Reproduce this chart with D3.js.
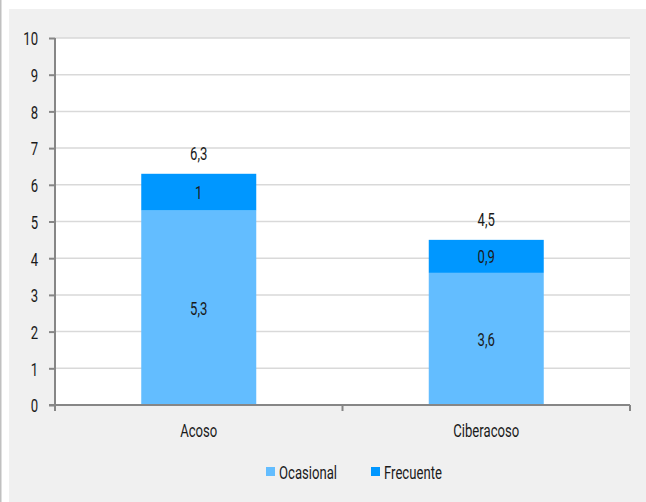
<!DOCTYPE html>
<html><head><meta charset="utf-8">
<script src="https://cdn.jsdelivr.net/npm/d3@7"></script>
<style>
html,body{margin:0;padding:0;background:#fff;}
text{font-family:Roboto,"Noto Sans",sans-serif;fill:#1a1a1a;}
</style></head>
<body>
<svg id="c" width="646" height="502"></svg>
<script>
const categories = ["Acoso", "Ciberacoso"];
const seriesNames = ["Ocasional", "Frecuente"];
const ocasional = [5.3, 3.6];
const frecuente = [1, 0.9];
const totals = [6.3, 4.5];
const yTicks = [0,1,2,3,4,5,6,7,8,9,10];
const colors = ["#63bdff", "#0097ff"];

const svg = d3.select("#c");
svg.append("rect").attr("x",0).attr("y",0).attr("width",646).attr("height",502).attr("fill","#fff");
svg.append("rect").attr("x",0).attr("y",0).attr("width",1.5).attr("height",502).attr("fill","#c0c0c0");
svg.append("rect").attr("x",9).attr("y",9).attr("width",637).attr("height",493).attr("fill","#f0f0f0");

const L=55, R=630, T=38, B=405;
svg.append("rect").attr("x",L).attr("y",T).attr("width",R-L).attr("height",B-T).attr("fill","#fff");

const x = d3.scaleBand().domain(categories).range([L,R]).padding(0);
const y = d3.scaleLinear().domain([0,10]).range([B,T]);

// measure condensing factor
const FS = 19;
const probe = svg.append("text").attr("font-size",FS).text("Ciberacoso");
const SX = 66 / probe.node().getComputedTextLength();
probe.remove();

function label(g, xx, yy, txt, anchor){
  const gg = g.append("g").attr("transform",`translate(${xx},${yy}) scale(${SX},1)`);
  gg.append("text").attr("font-size",FS).attr("text-anchor",anchor||"middle").attr("dy","0.36em").text(txt);
  return gg;
}

// grid
svg.append("g").selectAll("line").data(yTicks.filter(d=>d>0)).join("line")
  .attr("x1",L).attr("x2",R).attr("y1",d=>y(d)).attr("y2",d=>y(d))
  .attr("stroke","#d9d9d9").attr("stroke-width",1.5);

const fmt = v => String(v).replace(".", ",");
const bw = x.bandwidth()*0.4;
const stack = categories.map((c,i)=>[
  {c, s:0, y0:0, y1:ocasional[i], v:ocasional[i]},
  {c, s:1, y0:ocasional[i], y1:ocasional[i]+frecuente[i], v:frecuente[i]}
]).flat();

svg.append("g").selectAll("rect").data(stack).join("rect")
  .attr("x",d=>x(d.c)+x.bandwidth()/2-bw/2).attr("width",bw)
  .attr("y",d=>y(d.y1)).attr("height",d=>y(d.y0)-y(d.y1))
  .attr("fill",d=>colors[d.s]);

const lblG = svg.append("g");
stack.forEach(d=>label(lblG, x(d.c)+x.bandwidth()/2, (y(d.y0)+y(d.y1))/2, fmt(d.v)));
categories.forEach((c,i)=>label(lblG, x(c)+x.bandwidth()/2, y(totals[i])-21, fmt(totals[i])));

// y axis
const yAxis = d3.axisLeft(y).tickValues(yTicks).tickSize(6).tickFormat("");
const gy = svg.append("g").attr("transform",`translate(${L},0)`).call(yAxis);
gy.select(".domain").attr("stroke","#868686").attr("stroke-width",2).attr("d",`M0,${T}V${B}`);
gy.selectAll(".tick line").attr("stroke","#868686").attr("stroke-width",2);
gy.selectAll(".tick").each(function(d){ label(d3.select(this), -17, 0, String(d), "end"); });

// x axis
const gx = svg.append("g").attr("transform",`translate(0,${B})`);
gx.append("line").attr("x1",L-6).attr("x2",R).attr("y1",0).attr("y2",0).attr("stroke","#868686").attr("stroke-width",2);
const bounds = [L, ...categories.map(c=>x(c)+x.bandwidth())];
gx.selectAll("line.t").data(bounds).join("line").attr("class","t")
  .attr("x1",d=>d).attr("x2",d=>d).attr("y1",0).attr("y2",6).attr("stroke","#868686").attr("stroke-width",2);
categories.forEach(c=>label(gx, x(c)+x.bandwidth()/2, 25, c));

// legend
const leg = svg.append("g");
const lx = [266, 371];
seriesNames.forEach((n,i)=>{
  leg.append("rect").attr("x",lx[i]).attr("y",467).attr("width",9).attr("height",9).attr("fill",colors[i]);
  label(leg, lx[i]+13, 472, n, "start");
});
</script>
</body></html>
